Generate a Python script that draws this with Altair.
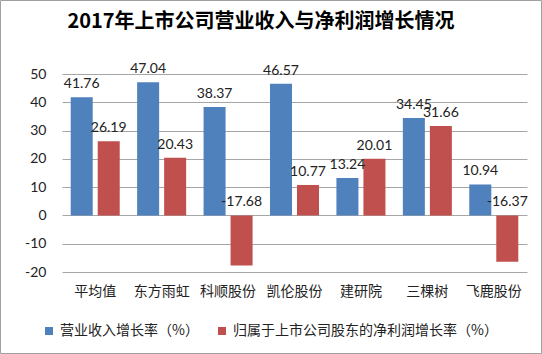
import altair as alt
import pandas as pd

title_text = ['2017年上市公司营业收入与净利润增长情况']
categories = ['平均值', '东方雨虹', '科顺股份', '凯伦股份', '建研院', '三棵树', '飞鹿股份']
revenue_growth = [41.76, 47.04, 38.37, 46.57, 13.24, 34.45, 10.94]
profit_growth = [26.19, 20.43, -17.68, 10.77, 20.01, 31.66, -16.37]
series_names = ['营业收入增长率（%）', '归属于上市公司股东的净利润增长率（%）']
series_colors = ['#4F81BD', '#C0504D']
y_ticks = [-20, -10, 0, 10, 20, 30, 40, 50]

rows = []
for c, r, p in zip(categories, revenue_growth, profit_growth):
    rows.append({'cat': c, 'series': series_names[0], 'value': r})
    rows.append({'cat': c, 'series': series_names[1], 'value': p})
df = pd.DataFrame(rows)

W, H = 465, 198
PL, PT, PR, PB = 62, 74, 15, 82
TOTAL_W, TOTAL_H = 542, 354

x_axis = alt.Axis(labelAngle=0, domain=False, ticks=False, labelPadding=12,
                  labelFont='Noto Sans CJK SC', labelFontSize=14, labelColor='#222222')
x_scale = alt.Scale(paddingInner=0.262, paddingOuter=0.131)
xo_scale = alt.Scale(domain=series_names, paddingInner=0.185, paddingOuter=0)
y_scale = alt.Scale(domain=[-20, 50], nice=False)
y_axis = alt.Axis(values=y_ticks, tickCount=8, domain=False, ticks=False, labelPadding=16,
                  labelOverlap=False, grid=True, gridColor='#A6A6A6', gridWidth=1,
                  labelExpr='toString(datum.value)',
                  labelFont='Lato', labelFontSize=14, labelColor='#222222')

x_enc = alt.X('cat:N', sort=categories, title=None, scale=x_scale, axis=x_axis)
xo_enc = alt.XOffset('series:N', sort=series_names, scale=xo_scale)
color_enc = alt.Color('series:N', sort=series_names,
                      scale=alt.Scale(domain=series_names, range=series_colors),
                      legend=alt.Legend(title=None, orient='none', legendX=-20, legendY=250,
                                        direction='horizontal', symbolType='square', symbolSize=64,
                                        symbolStrokeWidth=0, labelFont='Noto Sans CJK SC',
                                        labelFontSize=14, labelColor='#222222', columnPadding=16,
                                        labelLimit=400))

bars = alt.Chart(df).mark_bar().encode(
    x=x_enc, xOffset=xo_enc,
    y=alt.Y('value:Q', title=None, scale=y_scale, axis=y_axis),
    color=color_enc,
)

labels = alt.Chart(df).transform_calculate(
    pos='max(datum.value, 0)',
    txt="replace(format(datum.value, '.2f'), '\u2212', '-')",
).mark_text(dy=-9, baseline='alphabetic', font='Lato', fontSize=14, color='#222222').encode(
    x=x_enc, xOffset=xo_enc,
    y=alt.Y('pos:Q', title=None, scale=y_scale, axis=y_axis),
    text=alt.Text('txt:N'),
)

title = alt.Chart(pd.DataFrame({'t': title_text})).mark_text(
    font='Noto Sans CJK SC', fontSize=20, fontWeight='bold', color='#000000',
    align='center', baseline='middle'
).encode(x=alt.value(261 - PL), y=alt.value(22 - PT), text='t:N')

border = alt.Chart(pd.DataFrame({'k': [0]})).mark_rect(
    fill='transparent', stroke='#A0A0A0', strokeWidth=1
).encode(
    x=alt.value(-PL + 0.5), x2=alt.value(TOTAL_W - PL - 0.5),
    y=alt.value(-PT + 0.5), y2=alt.value(TOTAL_H - PT - 0.5),
)

chart = alt.layer(bars, labels, title, border).properties(
    width=W, height=H,
    autosize=alt.AutoSizeParams(type='none'),
    padding={'left': PL, 'top': PT, 'right': PR, 'bottom': PB},
    background='white',
).configure_view(stroke=None)

chart.save('out.html', embed_options={'renderer': 'svg', 'actions': False})
